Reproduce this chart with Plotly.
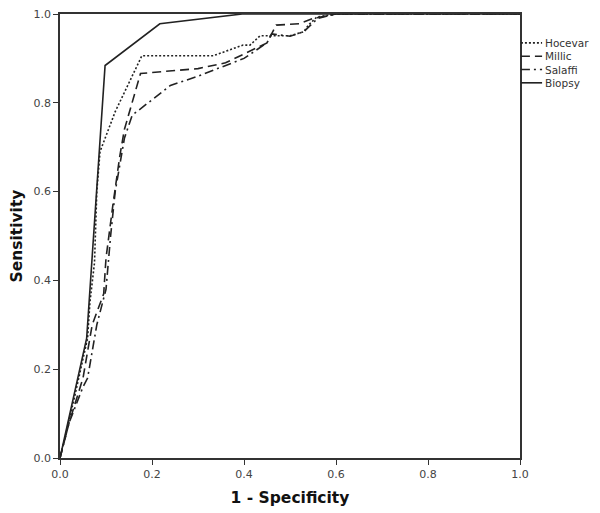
import plotly.graph_objects as go

# ROC curves (1 - Specificity, Sensitivity)
hocevar_x = [0, 0.03, 0.06, 0.065, 0.075, 0.08, 0.087, 0.12, 0.178, 0.333, 0.398, 0.413, 0.435, 0.5, 0.53, 0.54, 0.558, 0.6, 1.0]
hocevar_y = [0, 0.13, 0.27, 0.35, 0.44, 0.60, 0.69, 0.78, 0.906, 0.906, 0.93, 0.93, 0.951, 0.951, 0.96, 0.975, 0.993, 1.0, 1.0]

millic_x = [0, 0.02, 0.05, 0.07, 0.095, 0.10, 0.115, 0.13, 0.14, 0.175, 0.30, 0.36, 0.40, 0.45, 0.47, 0.52, 0.55, 0.60, 1.0]
millic_y = [0, 0.08, 0.18, 0.30, 0.37, 0.45, 0.57, 0.68, 0.74, 0.866, 0.877, 0.89, 0.91, 0.935, 0.975, 0.978, 0.99, 1.0, 1.0]

salaffi_x = [0, 0.02, 0.05, 0.06, 0.08, 0.10, 0.11, 0.12, 0.14, 0.157, 0.24, 0.30, 0.35, 0.40, 0.45, 0.46, 0.50, 0.53, 0.56, 0.60, 1.0]
salaffi_y = [0, 0.08, 0.16, 0.18, 0.30, 0.38, 0.50, 0.60, 0.72, 0.772, 0.839, 0.86, 0.88, 0.90, 0.935, 0.955, 0.95, 0.96, 0.99, 1.0, 1.0]

biopsy_x = [0, 0.058, 0.098, 0.217, 0.396, 1.0]
biopsy_y = [0, 0.27, 0.884, 0.978, 1.0, 1.0]

series_names = ["Hocevar", "Millic", "Salaffi", "Biopsy"]

tick_vals = [0.0, 0.2, 0.4, 0.6, 0.8, 1.0]
tick_text = ["0.0", "0.2", "0.4", "0.6", "0.8", "1.0"]

dashes = ["2px,2px", "9px,5px", "9px,4px,2px,4px", "solid"]
xs_all = [hocevar_x, millic_x, salaffi_x, biopsy_x]
ys_all = [hocevar_y, millic_y, salaffi_y, biopsy_y]

LINE_COLOR = "#222222"

fig = go.Figure()
for name, xs, ys, dash in zip(series_names, xs_all, ys_all, dashes):
    fig.add_trace(go.Scatter(
        x=xs, y=ys, mode="lines", name=name, showlegend=False,
        line=dict(color=LINE_COLOR, width=1.6, dash=dash),
    ))

# Legend drawn to the right of the frame (compact, like the original)
legend_top = 0.935
legend_step = 0.030
for i, (name, dash) in enumerate(zip(series_names, dashes)):
    yy = legend_top - i * legend_step
    fig.add_shape(type="line", xref="paper", yref="paper",
                  x0=1.002, x1=1.048, y0=yy, y1=yy,
                  line=dict(color=LINE_COLOR, width=1.6, dash=dash))
    fig.add_annotation(xref="paper", yref="paper", x=1.050, y=yy,
                       xanchor="left", yanchor="middle", showarrow=False,
                       text=name,
                       font=dict(family="DejaVu Sans", size=10.5, color="#333333"))

axis_common = dict(
    range=[0, 1], tickvals=tick_vals, ticktext=tick_text,
    showgrid=False, zeroline=False, showline=True, linecolor="#333333",
    linewidth=1.5, mirror=True, ticks="outside", ticklen=5, tickwidth=1,
    tickcolor="#333333", automargin=False, ticklabeloverflow="allow",
    tickfont=dict(family="DejaVu Sans", size=11, color="#444444"),
)

title_font = dict(family="DejaVu Sans", size=15.5, color="#111111", weight="bold")

fig.update_layout(
    width=592, height=505,
    margin=dict(l=52, r=80, t=6, b=55, autoexpand=False),
    plot_bgcolor="white", paper_bgcolor="white",
    xaxis=dict(axis_common, title=dict(text="1 - Specificity", standoff=12, font=title_font)),
    yaxis=dict(axis_common, title=dict(text="Sensitivity", standoff=8, font=title_font)),
    showlegend=False,
)

fig.write_html("out.html")
